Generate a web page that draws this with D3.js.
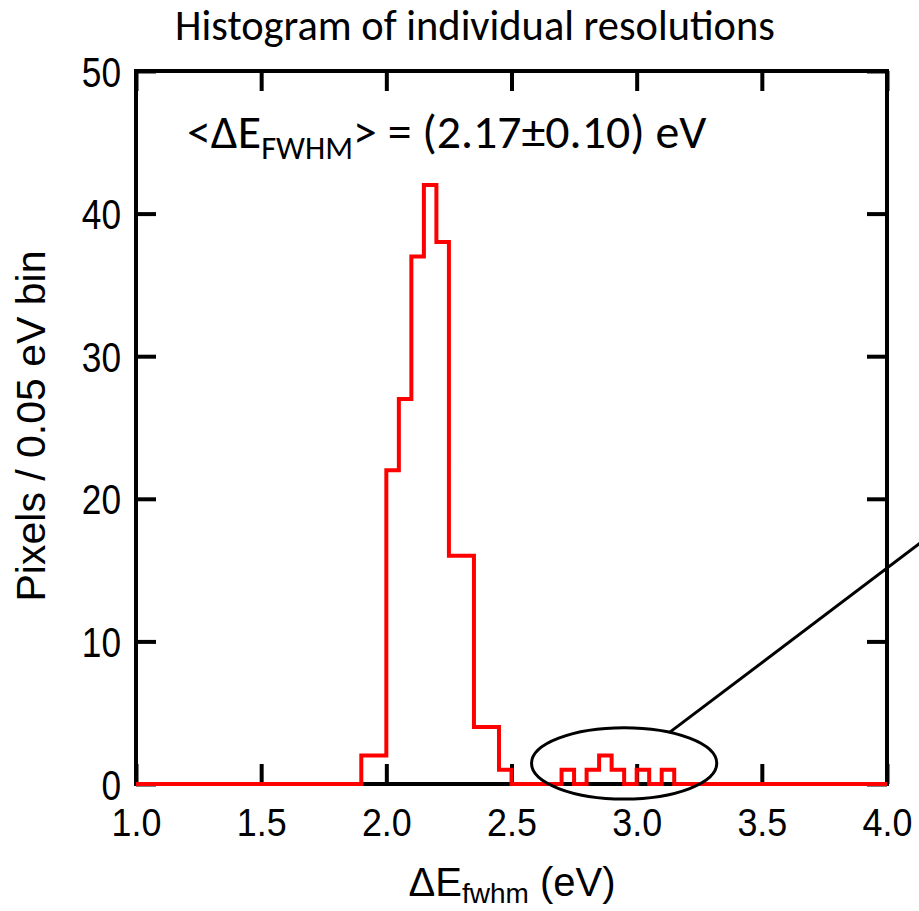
<!DOCTYPE html>
<html>
<head>
<meta charset="utf-8">
<script src="https://cdn.jsdelivr.net/npm/d3@7/dist/d3.min.js"></script>
<style>
  body { margin: 0; background: #fff; }
  svg { display: block; }
</style>
</head>
<body>
<svg id="chart" width="919" height="911"></svg>
<script>
// Histogram bins: 0.05 eV wide, starting at 1.00 eV
const binStart = 1.0;
const binWidth = 0.05;
const counts = [
  0, 0, 0, 0, 0, 0, 0, 0, 0, 0,      // 1.00 - 1.45
  0, 0, 0, 0, 0, 0, 0, 0, 2, 2,      // 1.50 - 1.95
  22, 27, 37, 42, 38, 16, 16, 4, 4, 1, // 2.00 - 2.45
  0, 0, 0, 0, 1, 0, 1, 2, 1, 0,      // 2.50 - 2.95
  1, 0, 1, 0, 0, 0, 0, 0, 0, 0,      // 3.00 - 3.45
  0, 0, 0, 0, 0, 0, 0, 0, 0, 0       // 3.50 - 3.95
];

const xDomain = [1.0, 4.0];
const yDomain = [0, 50];
const xTicks = [1.0, 1.5, 2.0, 2.5, 3.0, 3.5, 4.0];
const xTickLabels = ["1.0", "1.5", "2.0", "2.5", "3.0", "3.5", "4.0"];
const yTicks = [0, 10, 20, 30, 40, 50];
const yTickLabels = ["0", "10", "20", "30", "40", "50"];

// Outlier region callout (data units)
const ellipseCenter = [2.95, 1.45];
const ellipseRadii = [0.37, 2.5];
const leaderFrom = [3.13, 3.6];
const leaderTo = [4.6, 23.1];

const titleText = "Histogram of individual resolutions";
const meanLabel = ["<\u0394E", "FWHM", "> = (2.17\u00B10.10) eV"];
const xTitle = ["\u0394E", "fwhm", " (eV)"];
const yTitle = "Pixels / 0.05 eV bin";

const svg = d3.select("#chart");
const plot = { left: 136, right: 887, top: 71, bottom: 784 };

const x = d3.scaleLinear().domain(xDomain).range([plot.left, plot.right]);
const y = d3.scaleLinear().domain(yDomain).range([plot.bottom, plot.top]);

const tickFont = "'Liberation Sans', Arial, Helvetica, sans-serif";
const calibriLike = "Carlito, Calibri, Lato, 'Open Sans', sans-serif";

// Frame
svg.append("rect")
  .attr("x", plot.left).attr("y", plot.top)
  .attr("width", plot.right - plot.left)
  .attr("height", plot.bottom - plot.top)
  .attr("fill", "none")
  .attr("stroke", "#000")
  .attr("stroke-width", 4);

// Inward ticks on all four sides
function styleAxis(g) {
  g.select(".domain").remove();
  g.selectAll(".tick line").attr("stroke", "#000").attr("stroke-width", 4);
}

const xFmt = (d) => xTickLabels[xTicks.indexOf(d)];
const yFmt = (d) => yTickLabels[yTicks.indexOf(d)];

svg.append("g")
  .attr("transform", `translate(0,${plot.bottom})`)
  .call(d3.axisBottom(x).tickValues(xTicks).tickFormat(xFmt).tickSize(-20).tickPadding(0))
  .call(styleAxis)
  .call(g => g.selectAll(".tick text")
    .attr("y", 0).attr("dy", 0)
    .attr("transform", "translate(0,52) scale(0.92,1)")
    .attr("fill", "#000")
    .style("font-family", tickFont)
    .style("font-size", "39px"));

svg.append("g")
  .attr("transform", `translate(0,${plot.top})`)
  .call(d3.axisTop(x).tickValues(xTicks).tickFormat("").tickSize(-20))
  .call(styleAxis);

svg.append("g")
  .attr("transform", `translate(${plot.left},0)`)
  .call(d3.axisLeft(y).tickValues(yTicks).tickFormat(yFmt).tickSize(-20))
  .call(styleAxis)
  .call(g => g.selectAll(".tick text")
    .attr("x", 0).attr("dy", "0.36em")
    .attr("transform", "translate(-15,0) scale(0.84,1)")
    .attr("fill", "#000")
    .style("font-family", tickFont)
    .style("font-size", "42px"));

svg.append("g")
  .attr("transform", `translate(${plot.right},0)`)
  .call(d3.axisRight(y).tickValues(yTicks).tickFormat("").tickSize(-20))
  .call(styleAxis);

// Histogram outline as a step line
const steps = counts.map((c, i) => [binStart + i * binWidth, c]);
steps.push([binStart + counts.length * binWidth, counts[counts.length - 1]]);

const stepLine = d3.line()
  .x(d => x(d[0]))
  .y(d => y(d[1]))
  .curve(d3.curveStepAfter);

svg.append("path")
  .datum(steps)
  .attr("d", stepLine)
  .attr("fill", "none")
  .attr("stroke", "#ff0000")
  .attr("stroke-width", 4)
  .attr("stroke-linejoin", "miter");

// Callout ellipse and leader line
svg.append("ellipse")
  .attr("cx", x(ellipseCenter[0]))
  .attr("cy", y(ellipseCenter[1]))
  .attr("rx", x(ellipseCenter[0] + ellipseRadii[0]) - x(ellipseCenter[0]))
  .attr("ry", y(0) - y(ellipseRadii[1]))
  .attr("fill", "none")
  .attr("stroke", "#000")
  .attr("stroke-width", 3);

svg.append("line")
  .attr("x1", x(leaderFrom[0])).attr("y1", y(leaderFrom[1]))
  .attr("x2", x(leaderTo[0])).attr("y2", y(leaderTo[1]))
  .attr("stroke", "#000")
  .attr("stroke-width", 3);

// Font size that makes a text element span the target width
function fitWidth(sel, targetWidth, baseSize) {
  const w = sel.node().getBBox().width;
  return baseSize * targetWidth / w;
}

// Title
const title = svg.append("text")
  .attr("x", 475).attr("y", 40)
  .attr("text-anchor", "middle")
  .attr("fill", "#000")
  .style("font-family", calibriLike)
  .style("font-size", "38px")
  .text(titleText);
title.style("font-size", fitWidth(title, 600, 38) + "px");

// Text with a subscripted middle part
function subscriptText(parent, parts, size, subScale, subShift) {
  parent.selectAll("tspan").remove();
  parent.append("tspan").text(parts[0]).style("font-size", size + "px");
  parent.append("tspan").text(parts[1])
    .attr("dy", size * subShift)
    .style("font-size", size * subScale + "px");
  parent.append("tspan").text(parts[2])
    .attr("dy", -size * subShift)
    .style("font-size", size + "px");
}

// Mean resolution annotation
const mean = svg.append("text")
  .attr("x", 187).attr("y", 148)
  .attr("fill", "#000")
  .style("font-family", calibriLike);
subscriptText(mean, meanLabel, 38, 0.68, 0.24);
const meanSize = fitWidth(mean, 520, 38);
subscriptText(mean, meanLabel, meanSize, 0.68, 0.24);

// Axis titles
const xt = svg.append("text")
  .attr("x", 512).attr("y", 896)
  .attr("text-anchor", "middle")
  .attr("fill", "#000")
  .style("font-family", tickFont);
subscriptText(xt, xTitle, 40, 0.7, 0.18);

svg.append("text")
  .attr("transform", `translate(45,426) rotate(-90)`)
  .attr("text-anchor", "middle")
  .attr("fill", "#000")
  .style("font-family", tickFont)
  .style("font-size", "41px")
  .text(yTitle);
</script>
</body>
</html>
